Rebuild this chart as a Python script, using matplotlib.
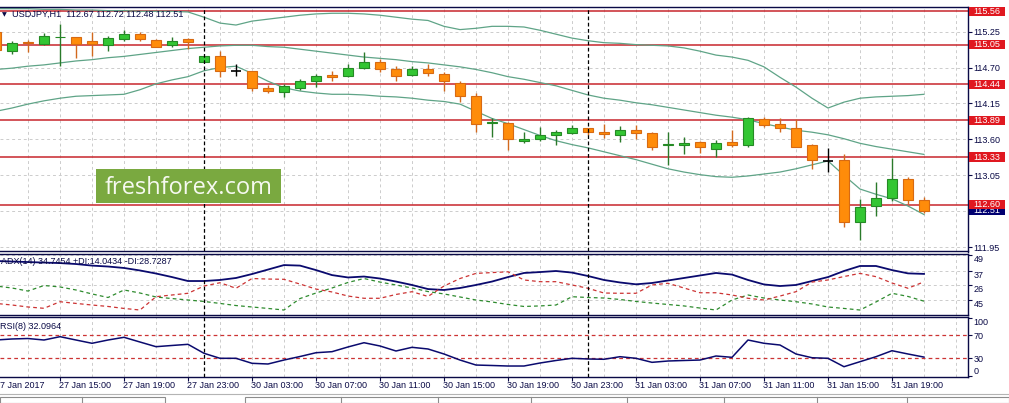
import matplotlib
matplotlib.use("Agg")
import matplotlib.pyplot as plt
import matplotlib.transforms as mtransforms
from matplotlib.patches import Rectangle
from matplotlib.lines import Line2D

plt.rcParams['font.family'] = ['Liberation Sans', 'DejaVu Sans']

W, H = 1009, 403

# USDJPY H1 candles, 27 Jan 11:00 .. 31 Jan 21:00
opens = [115.25, 114.96, 115.09, 115.06, 115.16, 115.16, 115.11, 115.05, 115.13, 115.21,
         115.12, 115.04, 115.13, 114.79, 114.87, 114.65, 114.64, 114.39, 114.32, 114.39,
         114.49, 114.58, 114.57, 114.69, 114.79, 114.68, 114.58, 114.67, 114.60, 114.47,
         114.27, 113.85, 113.85, 113.58, 113.61, 113.66, 113.69, 113.77, 113.72, 113.66,
         113.75, 113.69, 113.51, 113.51, 113.56, 113.46, 113.56, 113.51, 113.91, 113.84,
         113.77, 113.51, 113.27, 113.28, 112.33, 112.58, 112.70, 112.99, 112.67]
highs = [115.27, 115.11, 115.12, 115.23, 115.37, 115.17, 115.24, 115.18, 115.27, 115.25,
         115.13, 115.17, 115.15, 114.88, 114.96, 114.75, 114.65, 114.43, 114.44, 114.53,
         114.60, 114.64, 114.75, 114.94, 114.83, 114.73, 114.73, 114.76, 114.63, 114.50,
         114.31, 113.92, 113.86, 113.72, 113.79, 113.75, 113.82, 113.78, 113.84, 113.80,
         113.82, 113.72, 113.72, 113.64, 113.57, 113.59, 113.74, 113.95, 113.95, 113.92,
         113.91, 113.53, 113.47, 113.38, 112.69, 112.95, 113.31, 113.02, 112.72]
lows = [114.95, 114.90, 114.93, 115.04, 114.73, 114.85, 114.87, 114.96, 115.10, 115.10,
        115.01, 115.02, 114.98, 114.78, 114.56, 114.57, 114.34, 114.31, 114.25, 114.36,
        114.40, 114.50, 114.56, 114.68, 114.63, 114.50, 114.57, 114.57, 114.34, 114.17,
        113.72, 113.64, 113.43, 113.55, 113.58, 113.52, 113.68, 113.66, 113.62, 113.56,
        113.61, 113.44, 113.21, 113.37, 113.39, 113.33, 113.48, 113.48, 113.79, 113.72,
        113.48, 113.15, 113.10, 112.26, 112.06, 112.43, 112.66, 112.61, 112.48]
closes = [114.97, 115.07, 115.07, 115.18, 115.17, 115.06, 115.06, 115.15, 115.22, 115.13,
          115.02, 115.11, 115.09, 114.87, 114.64, 114.65, 114.38, 114.34, 114.41, 114.50,
          114.57, 114.56, 114.70, 114.79, 114.67, 114.57, 114.68, 114.61, 114.49, 114.26,
          113.84, 113.86, 113.60, 113.60, 113.67, 113.71, 113.77, 113.72, 113.68, 113.74,
          113.69, 113.49, 113.52, 113.54, 113.48, 113.54, 113.51, 113.93, 113.82, 113.77,
          113.49, 113.28, 113.27, 112.33, 112.56, 112.70, 112.99, 112.67, 112.51]

bb_upper = [115.60, 115.60, 115.60, 115.59, 115.59, 115.58, 115.58, 115.57, 115.57, 115.56,
            115.56, 115.56, 115.55, 115.47, 115.38, 115.35, 115.41, 115.44, 115.47, 115.50,
            115.52, 115.53, 115.53, 115.52, 115.50, 115.47, 115.44, 115.42, 115.33, 115.28,
            115.30, 115.33, 115.33, 115.32, 115.27, 115.21, 115.15, 115.11, 115.08, 115.07,
            115.05, 115.04, 115.03, 115.00, 114.95, 114.89, 114.86, 114.81, 114.71, 114.55,
            114.40, 114.23, 114.08, 114.17, 114.23, 114.25, 114.26, 114.27, 114.29]
bb_mid = [114.67, 114.69, 114.72, 114.74, 114.77, 114.80, 114.82, 114.85, 114.87, 114.90,
          114.93, 114.96, 114.99, 115.01, 115.03, 115.04, 115.04, 115.02, 115.01, 114.98,
          114.95, 114.92, 114.89, 114.86, 114.84, 114.82, 114.79, 114.77, 114.74, 114.71,
          114.67, 114.62, 114.56, 114.52, 114.47, 114.42, 114.35, 114.28, 114.23, 114.20,
          114.16, 114.13, 114.09, 114.05, 114.01, 113.97, 113.94, 113.90, 113.84, 113.79,
          113.74, 113.71, 113.67, 113.61, 113.54, 113.49, 113.45, 113.41, 113.37]
bb_lower = [114.03, 114.08, 114.14, 114.19, 114.23, 114.26, 114.27, 114.28, 114.29, 114.36,
            114.45, 114.51, 114.56, 114.65, 114.70, 114.72, 114.61, 114.49, 114.39, 114.34,
            114.31, 114.29, 114.29, 114.28, 114.26, 114.25, 114.23, 114.20, 114.18, 114.14,
            114.03, 113.92, 113.84, 113.75, 113.66, 113.58, 113.52, 113.47, 113.41, 113.35,
            113.29, 113.22, 113.15, 113.10, 113.06, 113.03, 113.02, 113.04, 113.07, 113.10,
            113.15, 113.21, 113.27, 113.05, 112.84, 112.76, 112.69, 112.58, 112.45]

adx = [44.5, 44.1, 43.7, 43.3, 42.9, 42.2, 41.0, 40.3, 39.2, 37.3,
       35.0, 32.3, 29.3, 29.3, 30.1, 31.6, 34.6, 38.0, 41.4, 41.0,
       37.6, 33.8, 32.0, 32.7, 31.2, 28.9, 26.3, 23.2, 22.5, 24.0,
       26.3, 28.9, 32.3, 35.4, 36.1, 36.9, 35.7, 33.1, 30.1, 28.2,
       26.8, 27.8, 29.7, 31.6, 33.5, 35.4, 34.2, 30.1, 26.7, 25.5,
       26.3, 29.3, 32.3, 36.9, 40.7, 40.7, 37.6, 35.1, 34.7]
plus_di = [25.5, 24.0, 21.7, 25.9, 24.8, 22.5, 19.5, 16.8, 22.5, 20.2,
           17.2, 16.0, 14.9, 13.8, 12.3, 10.7, 9.6, 8.5, 7.3, 16.0,
           20.2, 24.0, 28.2, 31.2, 28.5, 26.3, 24.0, 21.3, 19.5, 17.2,
           14.9, 13.4, 11.5, 10.0, 10.4, 11.1, 17.4, 16.8, 16.4, 15.3,
           13.8, 12.6, 11.5, 10.4, 8.8, 7.3, 14.9, 18.7, 16.4, 14.9,
           13.6, 11.9, 9.6, 8.5, 7.3, 13.4, 20.0, 17.6, 14.0]
minus_di = [12.3, 11.1, 9.6, 8.6, 13.6, 12.3, 11.1, 10.0, 8.5, 7.3,
            17.4, 18.7, 20.0, 25.5, 28.0, 23.8, 31.2, 30.8, 30.6, 27.0,
            23.2, 21.0, 17.9, 16.2, 16.2, 19.1, 21.2, 17.6, 25.5, 31.2,
            35.1, 35.7, 36.3, 30.1, 28.8, 28.8, 26.3, 23.8, 20.2, 20.0,
            20.0, 26.3, 27.6, 24.0, 20.4, 20.4, 18.7, 16.2, 14.9, 17.9,
            21.2, 28.5, 30.1, 32.7, 35.1, 32.6, 27.8, 23.8, 28.7]
rsi = [61.8, 63.6, 64.4, 61.8, 67.6, 61.8, 56.1, 61.8, 66.5, 58.3,
       50.2, 52.3, 54.3, 38.7, 30.0, 30.0, 21.3, 20.1, 27.0, 33.1,
       39.7, 41.5, 49.7, 57.1, 51.4, 42.7, 49.1, 46.2, 37.5, 27.0,
       18.3, 17.5, 16.6, 16.6, 21.8, 26.2, 30.0, 28.8, 28.3, 32.8,
       30.0, 23.0, 25.3, 26.2, 27.0, 34.0, 31.7, 61.8, 56.1, 53.1,
       37.5, 31.0, 30.0, 15.4, 24.1, 32.8, 43.2, 37.5, 32.1]

levels = [115.56, 115.05, 114.44, 113.89, 113.33, 112.60]
bid = 112.51
price_ticks = [115.25, 114.70, 114.15, 113.60, 113.05, 111.95]
grid_prices = [115.25, 114.70, 114.15, 113.60, 113.05, 112.50, 111.95]
adx_ticks = [49, 37, 26, 15]
adx_tick_labels = ["49", "37", "26", "45"]
rsi_ticks = [100, 70, 30, 0]
rsi_levels = [70, 30]
time_labels = ["27 Jan 2017", "27 Jan 15:00", "27 Jan 19:00", "27 Jan 23:00",
               "30 Jan 03:00", "30 Jan 07:00", "30 Jan 11:00", "30 Jan 15:00",
               "30 Jan 19:00", "30 Jan 23:00", "31 Jan 03:00", "31 Jan 07:00",
               "31 Jan 11:00", "31 Jan 15:00", "31 Jan 19:00"]
time_label_idx = list(range(0, 57, 4))
separators = [13, 37]

NAVY = '#0a0a46'
BULL, BULL_EDGE, BULL_WICK = '#33c633', '#258a25', '#2a7a2a'
BEAR, BEAR_EDGE, BEAR_WICK = '#ff8c0a', '#d86a12', '#d2691e'
LEVEL = '#c8262c'
BAND = '#5fa487'
GRID = '#cccccc'
DASH = (0, (3, 3))

fig = plt.figure(figsize=(W / 100, H / 100), dpi=100)
fig.patch.set_facecolor('white')


def px_axes(x0, y0, x1, y1):
    return fig.add_axes([x0 / W, 1 - y1 / H, (x1 - x0) / W, (y1 - y0) / H])


def style(ax):
    ax.set_xlim(0.25, 60.72)
    ax.spines['left'].set_visible(False)
    for s in ['top', 'bottom', 'right']:
        ax.spines[s].set_color(NAVY)
        ax.spines[s].set_linewidth(1.0)
    ax.yaxis.tick_right()
    ax.tick_params(axis='y', length=3, width=0.8, color=NAVY, labelsize=6.5,
                   labelcolor=NAVY, pad=1.5)
    ax.set_xticks([])
    for i in range(2, 61, 2):
        ax.axvline(i, color=GRID, lw=0.7, ls=DASH, zorder=0)
    for s in separators:
        ax.axvline(s, color='black', lw=0.9, ls=(0, (3, 2)), zorder=6)


ax = px_axes(0, 7, 967.5, 251.5)
ax_adx = px_axes(0, 254, 967.5, 314.5)
ax_rsi = px_axes(0, 317, 967.5, 377)

# main price panel
style(ax)
ax.set_ylim(111.884, 115.626)
for p in grid_prices:
    ax.axhline(p, color=GRID, lw=0.7, ls=DASH, zorder=0)
for p in levels:
    ax.axhline(p, color=LEVEL, lw=1.1, zorder=2)

idx = list(range(len(opens)))
for band in (bb_upper, bb_mid, bb_lower):
    ax.plot(idx, band, color=BAND, lw=0.9, zorder=2.5)

for i, (o, h, l, c) in enumerate(zip(opens, highs, lows, closes)):
    if c == o:
        ax.vlines(i, l, h, color='black', lw=1.0, zorder=4)
        ax.hlines(o, i - 0.33, i + 0.33, color='black', lw=1.2, zorder=4)
        continue
    fc, ec, wc = (BULL, BULL_EDGE, BULL_WICK) if c > o else (BEAR, BEAR_EDGE, BEAR_WICK)
    ax.vlines(i, l, h, color=wc, lw=1.0, zorder=3)
    ax.add_patch(Rectangle((i - 0.29, min(o, c)), 0.58, max(abs(c - o), 0.012),
                           fc=fc, ec=ec, lw=0.8, zorder=4))

ax.set_yticks(price_ticks)
ax.set_yticklabels([f"{p:.2f}" for p in price_ticks])

trans = mtransforms.blended_transform_factory(ax.transAxes, ax.transData)
bh = 9.5 * (115.626 - 111.884) / 244.5
bx, bw = 1 + 1.5 / 967.5, 36 / 967.5
ax.add_patch(Rectangle((bx, bid - bh / 2), bw, bh, transform=trans, fc='#000070',
                       ec='none', clip_on=False, zorder=7))
ax.text(bx + bw / 2, bid, f"{bid:.2f}", transform=trans, color='white', fontsize=6.5,
        ha='center', va='center', clip_on=False, zorder=8)
for p in levels:
    ax.add_patch(Rectangle((bx, p - bh / 2), bw, bh, transform=trans, fc='#e01820',
                           ec='none', clip_on=False, zorder=9))
    ax.text(bx + bw / 2, p, f"{p:.2f}", transform=trans, color='white', fontsize=6.5,
            ha='center', va='center', clip_on=False, zorder=10)

fig.text(1.5 / W, 1 - 14.5 / H, '\u25bc', fontsize=4.5, color=NAVY, va='center',
         family=['DejaVu Sans'])
fig.text(12 / W, 1 - 14.5 / H, "USDJPY,H1  112.67 112.72 112.48 112.51", fontsize=6.6,
         color=NAVY, va='center')

# logo
fig.patches.append(Rectangle((95.5 / W, 1 - 203 / H), 185.5 / W, 34 / H,
                             transform=fig.transFigure, fc='#7aa940', ec='none', zorder=5))
fig.text(188.5 / W, 1 - 194.5 / H, "freshforex.com", fontsize=17, color='#f6f9f0',
         ha='center', va='baseline', family=['Open Sans', 'DejaVu Sans'], zorder=6)

# ADX panel
style(ax_adx)
ax_adx.set_ylim(3.9, 49.8)
for v in adx_ticks:
    ax_adx.axhline(v, color=GRID, lw=0.7, ls=DASH, zorder=0)
ax_adx.plot(idx, adx, color='#0a0a6e', lw=1.3, zorder=3)
ax_adx.plot(idx, plus_di, color='#2e8b2e', lw=0.9, ls=(0, (3, 2.5)), zorder=3)
ax_adx.plot(idx, minus_di, color='#cc3333', lw=0.9, ls=(0, (3, 2.5)), zorder=3)
ax_adx.set_yticks(adx_ticks)
ax_adx.set_yticklabels(adx_tick_labels)
for t in ax_adx.get_yticklabels():
    t.set_va('top')
ax_adx.text(0.001, 0.87, "ADX(14) 34.7454 +DI:14.0434 -DI:28.7287",
            transform=ax_adx.transAxes, fontsize=6.5, color=NAVY, va='center')

# RSI panel
style(ax_rsi)
ax_rsi.set_ylim(-2.5, 101.8)
for v in rsi_levels:
    ax_rsi.axhline(v, color='#cc3333', lw=0.9, ls=(0, (3, 2.5)), zorder=2)
ax_rsi.plot(idx, rsi, color='#0a0a6e', lw=1.1, zorder=3)
ax_rsi.set_yticks(rsi_ticks)
ax_rsi.set_yticklabels([str(v) for v in rsi_ticks])
lbls = ax_rsi.get_yticklabels()
lbls[0].set_va('top')
lbls[-1].set_va('bottom')
ax_rsi.text(0.0, 0.84, "RSI(8) 32.0964", transform=ax_rsi.transAxes, fontsize=6.5,
            color=NAVY, va='center')

ax_rsi.set_xticks(time_label_idx[1:])
ax_rsi.tick_params(axis='x', length=3, width=0.8, color=NAVY, direction='out',
                   labelbottom=False)
ttrans = mtransforms.blended_transform_factory(ax_rsi.transData, ax_rsi.transAxes)
for i, lab in zip(time_label_idx, time_labels):
    ax_rsi.text(i - 0.06, -8 / 60, lab, transform=ttrans, fontsize=6.5, color=NAVY,
                ha='left', va='center', clip_on=False)

# bottom tab strip
fig.add_artist(Line2D([0, 1], [1 - 393.5 / H] * 2, color='#b4b4b4', lw=0.8))
for x0, x1, divs in [(0, 165, [82]), (245, 1009, [341, 438, 531, 627, 724, 817, 907])]:
    fig.patches.append(Rectangle((x0 / W, 0), (x1 - x0) / W, 6 / H,
                                 transform=fig.transFigure, fc='white', ec='#8c8c8c',
                                 lw=0.8))
    for d in divs:
        fig.add_artist(Line2D([d / W] * 2, [0, 6 / H], color='#8c8c8c', lw=0.8))

fig.savefig("out.png", dpi=100)
